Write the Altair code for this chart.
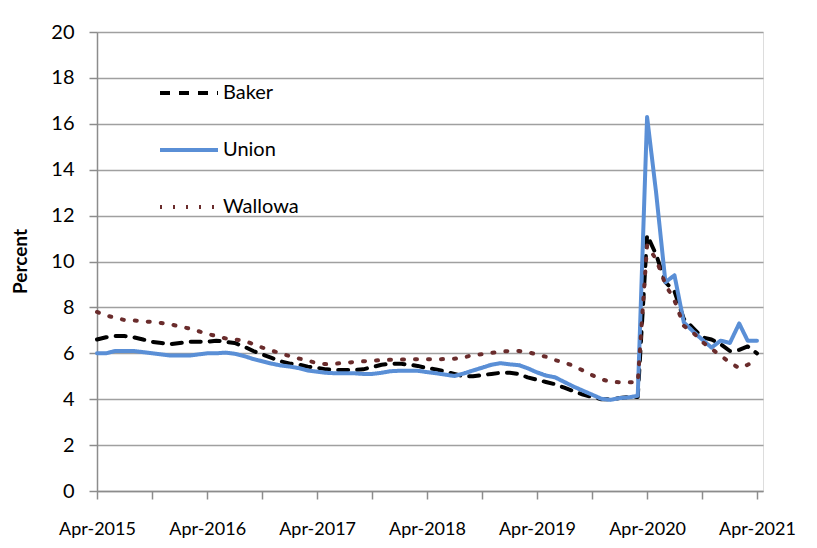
import altair as alt
import pandas as pd

months = pd.date_range("2015-04-01", periods=73, freq="MS").strftime("%Y-%m-%d").tolist()

baker = [6.6, 6.7, 6.75, 6.75, 6.7, 6.6, 6.5, 6.45, 6.4, 6.45, 6.5, 6.5,
         6.5, 6.55, 6.5, 6.45, 6.3, 6.1, 5.95, 5.8, 5.65, 5.55, 5.5, 5.42,
         5.37, 5.3, 5.27, 5.27, 5.27, 5.3, 5.4, 5.5, 5.55, 5.55, 5.5, 5.45,
         5.35, 5.3, 5.2, 5.1, 5.0, 5.0, 5.05, 5.1, 5.15, 5.15, 5.1, 4.95,
         4.85, 4.75, 4.65, 4.5, 4.35, 4.2, 4.1, 4.0, 4.0, 4.05, 4.1, 4.1,
         11.15, 10.3, 9.1, 8.7, 7.5, 7.1, 6.7, 6.6, 6.4, 6.1, 6.15, 6.3,
         6.0]
union = [6.0, 6.0, 6.1, 6.1, 6.1, 6.05, 6.0, 5.95, 5.9, 5.9, 5.9, 5.95,
         6.0, 6.0, 6.03, 5.98, 5.88, 5.75, 5.65, 5.55, 5.47, 5.42, 5.35, 5.25,
         5.2, 5.15, 5.13, 5.13, 5.13, 5.1, 5.1, 5.15, 5.22, 5.24, 5.24, 5.24,
         5.18, 5.13, 5.07, 5.01, 5.12, 5.25, 5.37, 5.5, 5.57, 5.52, 5.48, 5.35,
         5.17, 5.03, 4.95, 4.75, 4.55, 4.37, 4.2, 4.02, 3.97, 4.05, 4.08, 4.15,
         16.3, 13.0, 9.1, 9.4, 7.35, 6.95, 6.6, 6.25, 6.55, 6.45, 7.3, 6.55,
         6.55]
wallowa = [7.8, 7.65, 7.55, 7.45, 7.43, 7.4, 7.36, 7.32, 7.26, 7.17, 7.08, 6.97,
           6.85, 6.75, 6.65, 6.6, 6.55, 6.4, 6.25, 6.12, 6.0, 5.87, 5.77, 5.68,
           5.57, 5.53, 5.55, 5.58, 5.62, 5.65, 5.68, 5.7, 5.72, 5.73, 5.74, 5.74,
           5.74, 5.74, 5.75, 5.76, 5.82, 5.93, 5.96, 6.02, 6.07, 6.1, 6.1, 6.05,
           5.95, 5.85, 5.7, 5.6, 5.45, 5.25, 5.05, 4.87, 4.76, 4.74, 4.74, 4.74,
           10.7, 10.1, 9.0, 8.3, 7.2, 6.9, 6.5, 6.2, 5.9, 5.6, 5.35, 5.5,
           5.7]

series = ["Baker", "Union", "Wallowa"]
colors = ["#000000", "#5a8fd6", "#6a2c2c"]
widths = [4, 4, 5.5]

rows = []
for name, vals in zip(series, [baker, union, wallowa]):
    for d, v in zip(months, vals):
        rows.append({"date": d, "county": name, "value": v})
df = pd.DataFrame(rows)

tick_dates = [alt.DateTime(year=2015 + (3 + 6 * k) // 12, month=(3 + 6 * k) % 12 + 1, date=1, utc=True)
              for k in range(13)]

FONT = "Lato"


def build(extra, dot_dash):
    dashes = [[10, 9], [1, 0], dot_dash]
    legend_kwargs = dict(title=None, orient="none", legendX=61, legendY=30,
                         symbolType="stroke", symbolSize=3364,
                         labelFontSize=20, labelFont=FONT, labelColor="#000000",
                         labelOffset=3, rowPadding=16, padding=0)
    legend_kwargs.update(extra)
    c = alt.Chart(df).mark_line(strokeCap="round", strokeJoin="round").encode(
        x=alt.X("date:T",
                scale=alt.Scale(type="utc",
                                domain=[alt.DateTime(year=2015, month=4, date=1, utc=True),
                                        alt.DateTime(year=2021, month=4, date=21, utc=True)]),
                axis=alt.Axis(title=None, values=tick_dates, grid=False,
                              labelExpr="utcmonth(datum.value) == 3 ? utcFormat(datum.value, '%b-%Y') : ''",
                              labelFontSize=18, labelFont=FONT, labelColor="#000000",
                              labelPadding=21, labelFlush=False, labelAlign="center",
                              tickSize=8, tickColor="#8c8c8c", tickWidth=1.5,
                              domainColor="#8c8c8c", domainWidth=1.5, labelOverlap=False)),
        y=alt.Y("value:Q",
                scale=alt.Scale(domain=[0, 20], nice=False),
                axis=alt.Axis(title="Percent", values=list(range(0, 21, 2)), grid=True,
                              gridColor="#a0a0a0", gridWidth=1.5,
                              labelFontSize=20, labelFont=FONT, labelColor="#000000",
                              labelPadding=15, tickSize=8, tickColor="#8c8c8c", tickWidth=1.5,
                              domainColor="#8c8c8c", domainWidth=1.5,
                              titleFont=FONT, titleFontSize=19, titleFontWeight="bold",
                              titleColor="#000000", titleX=-77, titleY=229, titleAngle=-90,
                              titleBaseline="middle", titleAlign="center")),
        color=alt.Color("county:N",
                        scale=alt.Scale(domain=series, range=colors),
                        legend=alt.Legend(**legend_kwargs)),
        strokeDash=alt.StrokeDash("county:N", scale=alt.Scale(domain=series, range=dashes)),
        strokeWidth=alt.StrokeWidth("county:N", scale=alt.Scale(domain=series, range=widths)),
    ).properties(
        width=666, height=459,
        autosize=alt.AutoSizeParams(type="none"),
        padding={"left": 89, "top": 24, "right": 46, "bottom": 49},
    ).configure_view(stroke=None).configure(background="#ffffff")
    return c


attempts = [
    ({"encoding": {"symbols": {"strokeCap": {"value": "round"}}}}, [0.5, 12.5]),
    ({"encode": {"symbols": {"update": {"strokeCap": {"value": "round"}}}}}, [0.5, 12.5]),
    ({}, [2.0, 11.0]),
]
chart = None
for extra, dd in attempts:
    try:
        cand = build(extra, dd)
        cand.to_dict()
        chart = cand
        break
    except Exception:
        continue

chart.save("out.html", embed_options={"renderer": "svg", "actions": False})
